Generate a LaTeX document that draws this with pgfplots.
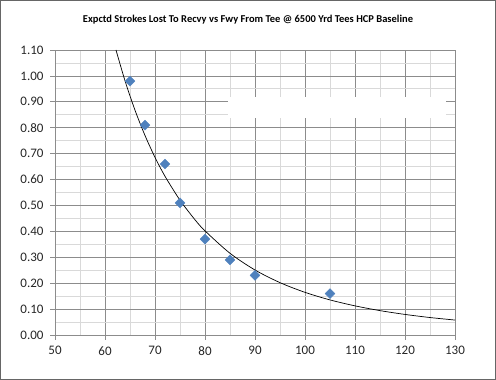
\documentclass[border=0pt]{standalone}
\usepackage{pgfplots}
\pgfplotsset{compat=1.18}
\usepackage{fontspec}
\setmainfont{Carlito}
\definecolor{majgrid}{HTML}{8C8C8C}
\definecolor{mingrid}{HTML}{D9D9D9}
\definecolor{xlblue}{HTML}{4F81BD}
\begin{document}
\begin{tikzpicture}
\useasboundingbox (0pt,0pt) rectangle (496pt,380pt);
\draw[color=gray!80!black, line width=1pt] (0.5pt,0.5pt) rectangle (495.5pt,379.5pt);
\node[font=\fontsize{10.5}{12}\selectfont\bfseries] at (248pt,360pt) {Expctd Strokes Lost To Recvy vs Fwy From Tee @ 6500 Yrd Tees HCP Baseline};
\begin{axis}[
  at={(55pt,45pt)}, anchor=south west,
  scale only axis, width=400pt, height=285pt,
  xmin=50, xmax=130, ymin=0, ymax=1.10,
  xtick={50,60,...,130},
  ytick={0,0.1,...,1.11},
  minor x tick num=1, minor y tick num=1,
  grid=both,
  major grid style={color=majgrid, line width=0.8pt},
  minor grid style={color=mingrid, line width=0.8pt},
  axis lines*=left,
  axis line style={color=majgrid, line width=0.8pt, -},
  tick align=outside,
  major tick length=5pt, minor tick length=0pt,
  tick style={color=majgrid, line width=0.8pt},
  /pgf/number format/assume math mode=true,
  tick label style={font=\fontsize{13}{15}\selectfont, color=black!85},
  yticklabel style={xshift=-3pt, /pgf/number format/.cd, fixed, fixed zerofill, precision=2},
  xticklabel style={yshift=-3pt, /pgf/number format/.cd, fixed, precision=0},
  clip=false,
]
\fill[white] (axis cs:84.5,0.838) rectangle (axis cs:128.2,0.919);
\addplot[black, line width=0.7pt, smooth, no marks] coordinates {
(62.2,1.1) (64,0.9814) (66,0.8677) (68,0.7701) (70,0.6857) (72,0.6127) (75,0.5204) (78,0.4448) (80,0.4020) (85,0.3154) (90,0.2509) (95,0.2021) (100,0.1646) (105,0.1354) (110,0.1125) (115,0.0941) (120,0.0794) (125,0.0674) (130,0.0577)
};
\addplot[only marks, mark=square*, mark size=3.5pt, mark options={rotate=45, fill=xlblue, draw=xlblue}] coordinates {
(65,0.98) (68,0.81) (72,0.66) (75,0.51) (80,0.37) (85,0.29) (90,0.23) (105,0.16)
};
\end{axis}
\end{tikzpicture}
\end{document}
